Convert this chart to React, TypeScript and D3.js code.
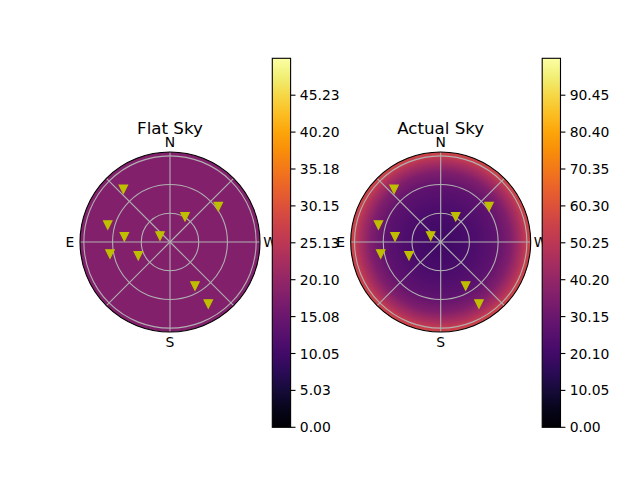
import React from "react";
import * as d3 from "d3";

// ---- data ----
const panelTitles = ["Flat Sky", "Actual Sky"];
const directionLabels = ["N", "E", "S", "W"];
const directionAzimuths = [0, 90, 180, 270];
// star positions: azimuth (deg, N=0, E=90) and zenith angle (deg)
const starAzimuth = [41.5, 306.2, 329.3, 74.7, 83.4, 59.0, 101.3, 113.4, 209.6, 211.7];
const starZenith = [73.5, 62.5, 30.7, 67.4, 48.0, 12.2, 63.9, 36.1, 52.8, 76.1];
// sky brightness profiles (zenith angle deg -> value)
const flatProfileZenith = [0, 94];
const flatProfileValue = [18, 18];
const actualProfileZenith = [0, 31, 57, 73, 84, 90, 94];
const actualProfileValue = [19, 22, 27, 35, 46, 53, 56];
// colorbars
const flatColorMax = 50.26;
const actualColorMax = 100.5;
const flatTickValues = [0, 5.026, 10.052, 15.078, 20.104, 25.13, 30.156, 35.182, 40.208, 45.234];
const flatTickLabels = ["0.00", "5.03", "10.05", "15.08", "20.10", "25.13", "30.15", "35.18", "40.20", "45.23"];
const actualTickValues = [0, 10.05, 20.1, 30.15, 40.2, 50.25, 60.3, 70.35, 80.4, 90.45];
const actualTickLabels = ["0.00", "10.05", "20.10", "30.15", "40.20", "50.25", "60.30", "70.35", "80.40", "90.45"];
const gridZenith = [30, 60, 90];
const gridAzimuth = [0, 45, 90, 135, 180, 225, 270, 315];
const zenithMax = 94;

const FONT = "DejaVu Sans, sans-serif";

type PanelProps = {
  id: string;
  cx: number;
  title: string;
  profZ: number[];
  profV: number[];
  cmax: number;
  cbX: number;
  tickVals: number[];
  tickLabels: string[];
};

function Panel({ id, cx, title, profZ, profV, cmax, cbX, tickVals, tickLabels }: PanelProps) {
  const cy = 242;
  const R = 90;
  const r = d3.scaleLinear().domain([0, zenithMax]).range([0, R]);
  const color = (v: number) => d3.interpolateInferno(v / cmax);
  const pos = (az: number, z: number) => {
    const a = (az * Math.PI) / 180;
    const rr = r(z);
    return [cx - rr * Math.sin(a), cy - rr * Math.cos(a)];
  };
  const cbTop = 58.3;
  const cbBot = 427.3;
  const cbW = 18.3;
  const y = d3.scaleLinear().domain([0, cmax]).range([cbBot, cbTop]);
  const cbStops = d3.range(0, 1.0001, 0.05);
  const tri = (x: number, yy: number) => {
    const s = 4.2;
    return `M${x},${yy + s}L${x - s},${yy - s}L${x + s},${yy - s}Z`;
  };
  const labelOffset = 10;
  return (
    <g>
      <defs>
        <radialGradient id={`sky-${id}`} gradientUnits="userSpaceOnUse" cx={cx} cy={cy} r={R}>
          {profZ.map((z, i) => (
            <stop key={i} offset={z / zenithMax} stopColor={color(profV[i])} />
          ))}
        </radialGradient>
        <linearGradient id={`cb-${id}`} x1="0" y1="1" x2="0" y2="0">
          {cbStops.map((t, i) => (
            <stop key={i} offset={t} stopColor={d3.interpolateInferno(t)} />
          ))}
        </linearGradient>
      </defs>
      <text x={cx} y={133.5} textAnchor="middle" fontFamily={FONT} fontSize={16.7}>
        {title}
      </text>
      <circle cx={cx} cy={cy} r={R} fill={`url(#sky-${id})`} />
      {gridZenith.map((z) => (
        <circle key={z} cx={cx} cy={cy} r={r(z)} fill="none" stroke="#b0b0b0" strokeWidth={1.1} />
      ))}
      {gridAzimuth.map((az) => {
        const [x2, y2] = pos(az, zenithMax);
        return <line key={az} x1={cx} y1={cy} x2={x2} y2={y2} stroke="#b0b0b0" strokeWidth={1.1} />;
      })}
      <circle cx={cx} cy={cy} r={R} fill="none" stroke="#000" strokeWidth={1.1} />
      {starAzimuth.map((az, i) => {
        const [x, yy] = pos(az, starZenith[i]);
        return <path key={i} d={tri(x, yy)} fill="#bfbf00" stroke="#bfbf00" strokeWidth={1.2} strokeLinejoin="miter" />;
      })}
      {directionLabels.map((lab, i) => {
        const a = (directionAzimuths[i] * Math.PI) / 180;
        const rr = R + labelOffset;
        const x = cx - rr * Math.sin(a);
        const yy = cy - rr * Math.cos(a);
        return (
          <text key={lab} x={x} y={yy} textAnchor="middle" dominantBaseline="central" fontFamily={FONT} fontSize={13.9}>
            {lab}
          </text>
        );
      })}
      <rect x={cbX} y={cbTop} width={cbW} height={cbBot - cbTop} fill={`url(#cb-${id})`} stroke="#000" strokeWidth={1.1} />
      {tickVals.map((v, i) => (
        <g key={i}>
          <line x1={cbX + cbW} x2={cbX + cbW + 4.9} y1={y(v)} y2={y(v)} stroke="#000" strokeWidth={1.1} />
          <text x={cbX + cbW + 9.2} y={y(v)} dominantBaseline="central" fontFamily={FONT} fontSize={13.9}>
            {tickLabels[i]}
          </text>
        </g>
      ))}
    </g>
  );
}

export default function App() {
  return (
    <svg width={640} height={480} style={{ position: "absolute", left: 0, top: 0, background: "#fff" }}>
      <rect x={0} y={0} width={640} height={480} fill="#fff" />
      <Panel
        id="flat"
        cx={170}
        title={panelTitles[0]}
        profZ={flatProfileZenith}
        profV={flatProfileValue}
        cmax={flatColorMax}
        cbX={272.3}
        tickVals={flatTickValues}
        tickLabels={flatTickLabels}
      />
      <Panel
        id="actual"
        cx={440.7}
        title={panelTitles[1]}
        profZ={actualProfileZenith}
        profV={actualProfileValue}
        cmax={actualColorMax}
        cbX={542.2}
        tickVals={actualTickValues}
        tickLabels={actualTickLabels}
      />
    </svg>
  );
}
